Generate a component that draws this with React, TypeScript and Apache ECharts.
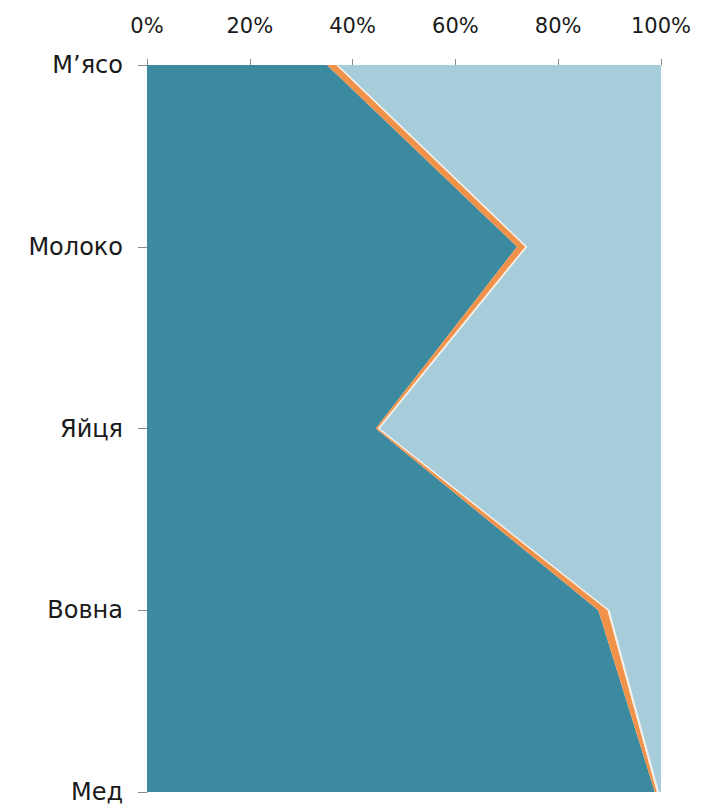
import React, { useEffect, useRef } from "react";
import * as echarts from "echarts";

const categories = ["М’ясо", "Молоко", "Яйця", "Вовна", "Мед"];
const darkShare = [35, 72, 44.5, 87.8, 98.8];
const orangeShare = [1.8, 1.6, 0.4, 1.8, 0.4];
const paleShare = [0.4, 0.4, 0.4, 0.4, 0.4];
const lightShare = [62.8, 26, 54.7, 10, 0.4];
const tickValues = [0, 20, 40, 60, 80, 100];

export default function App() {
  const ref = useRef<HTMLDivElement>(null);
  useEffect(() => {
    if (!ref.current) return;
    const chart = echarts.init(ref.current, null, { renderer: "svg" });
    const mk = (name: string, data: number[], color: string) => ({
      name,
      type: "line",
      stack: "total",
      data,
      symbol: "none",
      showSymbol: false,
      lineStyle: { width: 0 },
      areaStyle: { color, opacity: 1 },
      itemStyle: { color },
    });
    chart.setOption({
      animation: false,
      backgroundColor: "#ffffff",
      textStyle: { fontFamily: "DejaVu Sans" },
      grid: { left: 147, right: 51, top: 65, bottom: 16 },
      xAxis: {
        type: "value",
        position: "top",
        min: tickValues[0],
        max: tickValues[tickValues.length - 1],
        interval: 20,
        splitLine: { show: false },
        axisLine: { show: true, lineStyle: { color: "#8a8a8a" } },
        axisTick: { show: true, length: 6, lineStyle: { color: "#8a8a8a" } },
        axisLabel: {
          formatter: "{value}%",
          color: "#1a1a1a",
          fontSize: 21,
          fontFamily: "DejaVu Sans",
          margin: 29,
        },
      },
      yAxis: {
        type: "category",
        data: categories,
        inverse: true,
        boundaryGap: false,
        axisLine: { show: true, lineStyle: { color: "#8a8a8a" } },
        axisTick: { show: true, length: 9, lineStyle: { color: "#8a8a8a" } },
        axisLabel: {
          color: "#1a1a1a",
          fontSize: 24,
          fontFamily: "DejaVu Sans",
          margin: 24,
        },
        splitLine: { show: false },
      },
      series: [
        mk("dark", darkShare, "#3c8a9f"),
        mk("orange", orangeShare, "#f0924a"),
        mk("pale", paleShare, "#f3eee6"),
        mk("light", lightShare, "#a7ccda"),
      ],
    });
    return () => chart.dispose();
  }, []);
  return (
    <div
      ref={ref}
      style={{ position: "fixed", left: 0, top: 0, width: 712, height: 808 }}
    />
  );
}
